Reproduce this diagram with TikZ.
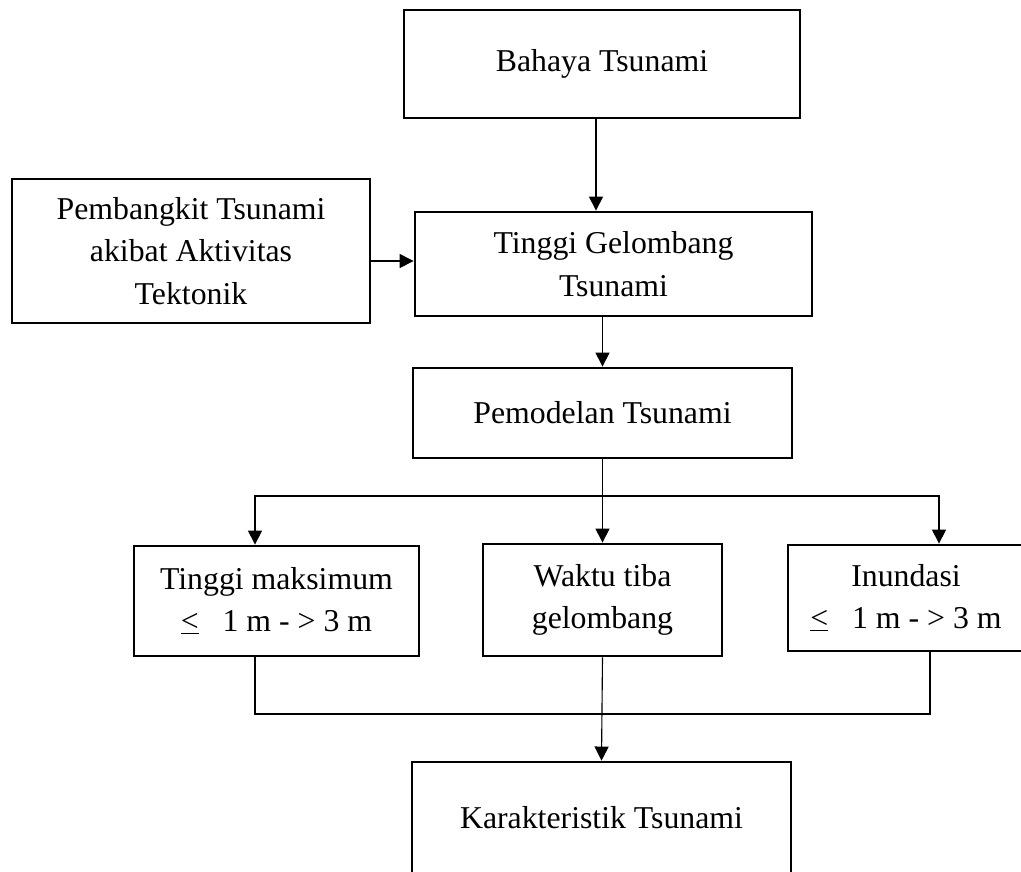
\documentclass[tikz,border=0pt]{standalone}
\usepackage{fontspec}
\setmainfont{Liberation Serif}
\usetikzlibrary{arrows.meta}
\newlength{\pxu}
\setlength{\pxu}{0.025cm}

\begin{document}
\begin{tikzpicture}[x=0.025cm, y=-0.025cm,
    box/.style={draw, line width=2pt, inner sep=0pt, align=center,
        font=\fontsize{22.6pt}{30.1pt}\selectfont},
    flow/.style={line width=0.8pt, -{Triangle[length=10pt, width=10pt]}},
    link/.style={line width=0.8pt}]
        \useasboundingbox (0,0) rectangle (1021,871);

        % NODES
        % -----------------

        \node[box, minimum width=396\pxu, minimum height=108\pxu] (bahaya) at (602,64) {Bahaya Tsunami};
        \node[box, minimum width=358\pxu, minimum height=144\pxu] (pembangkit) at (191,251)
            {Pembangkit Tsunami\\akibat Aktivitas\\Tektonik};
        \node[box, minimum width=397\pxu, minimum height=104\pxu] (tinggi_gel) at (613.5,264)
            {Tinggi Gelombang\\Tsunami};
        \node[box, minimum width=379\pxu, minimum height=90\pxu] (pemodelan) at (602.5,413) {Pemodelan Tsunami};

        \node[box, minimum width=285\pxu, minimum height=110\pxu] (tinggi_maks) at (276.5,601)
            {Tinggi maksimum\\\underline{<}\ \ \ 1 m - > 3 m};
        \node[box, minimum width=239\pxu, minimum height=112\pxu] (waktu) at (602.5,600)
            {Waktu tiba\\gelombang};
        \node[box, minimum width=236\pxu, minimum height=106\pxu] (inundasi) at (906,598)
            {Inundasi\\\underline{<}\ \ \ 1 m - > 3 m};

        \node[box, minimum width=379\pxu, minimum height=112\pxu] (karakteristik) at (601.5,818)
            {Karakteristik Tsunami};

        % EDGES
        % -----------------

        \draw[flow] ([xshift=-6\pxu]bahaya.south) -- ([xshift=-6\pxu]bahaya.south |- tinggi_gel.north);
        \draw[flow] ([yshift=-10\pxu]pembangkit.east) -- ([yshift=-10\pxu]pembangkit.east -| tinggi_gel.west);
        \draw[flow] (tinggi_gel.south -| pemodelan.north) -- (pemodelan.north);

        % split to the three results
        \draw[flow] (pemodelan.south) -- (waktu.north);
        \coordinate (split) at (602.5,496);
        \draw[flow] (split) -| ([xshift=-21.5\pxu]tinggi_maks.north);
        \draw[flow] (split) -| ([xshift=33\pxu]inundasi.north);

        % join to the characteristics
        \coordinate (join) at (602.5,714);
        \draw[link] ([xshift=-21.5\pxu]tinggi_maks.south) |- (join);
        \draw[link] ([xshift=24\pxu]inundasi.south) |- (join);
        \draw[flow] (waktu.south) -- (karakteristik.north);

\end{tikzpicture}
\end{document}
